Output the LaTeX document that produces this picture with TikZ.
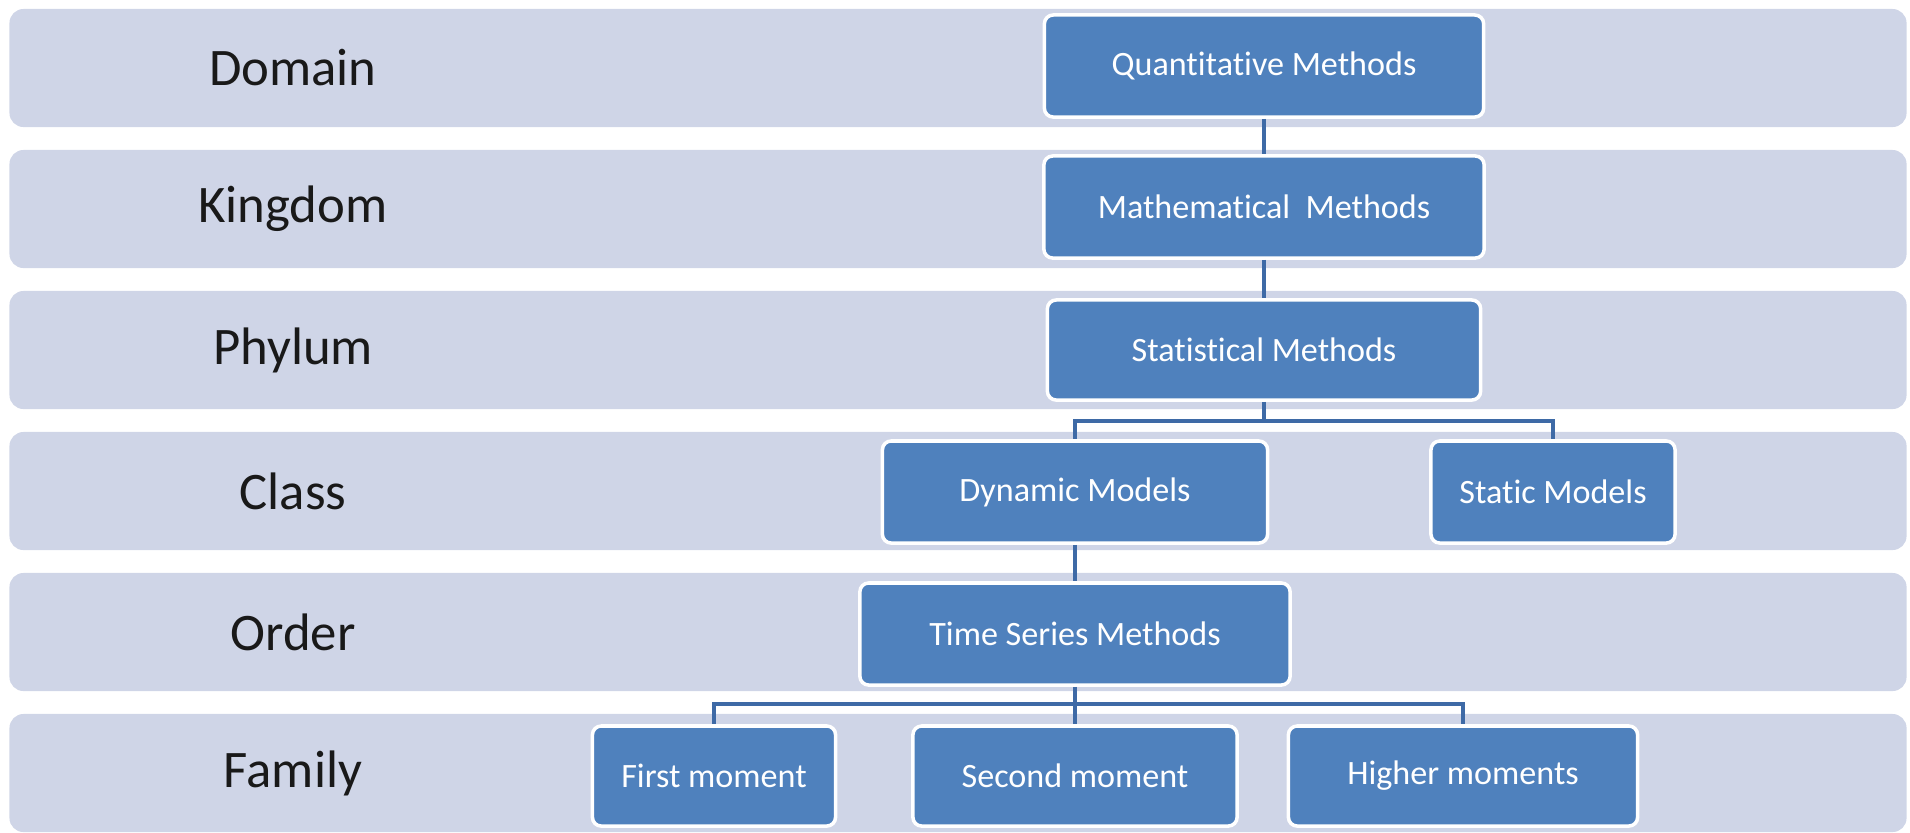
\documentclass[tikz,border=0pt]{standalone}
\usepackage{fontspec}
\setmainfont[Ligatures=NoCommon]{Carlito}
\definecolor{bandgrey}{RGB}{207,213,231}
\definecolor{boxblue}{RGB}{79,129,189}
\definecolor{linkblue}{RGB}{62,106,166}

\begin{document}
\begin{tikzpicture}[x=0.01cm,y=-0.01cm]
      \tikzset{band/.style = {shape=rectangle,rounded corners=4pt,fill=bandgrey,minimum width=18.96cm,minimum height=1.18cm,inner sep=0pt}}
      \tikzset{rank/.style = {font=\fontsize{15pt}{18pt}\selectfont,text=black!90}}
      \tikzset{method/.style = {shape=rectangle,rounded corners=2.5pt,fill=boxblue,draw=white,line width=1pt,text=white,minimum height=1.02cm,inner sep=0pt,font=\fontsize{9.7pt}{12pt}\selectfont}}
      \tikzset{link/.style = {draw=linkblue,line width=1.25pt}}
      \useasboundingbox (0,0) rectangle (1910,832);

      \node[band] (b1) at (958,68) {};
      \node[band] (b2) at (958,209) {};
      \node[band] (b3) at (958,350) {};
      \node[band] (b4) at (958,491) {};
      \node[band] (b5) at (958,632) {};
      \node[band] (b6) at (958,773) {};

      \node[rank] (domain) at (293,68) {Domain};
      \node[rank] (kingdom) at (293,209) {Kingdom};
      \node[rank] (phylum) at (293,350) {Phylum};
      \node[rank] (class) at (293,491) {Class};
      \node[rank] (order) at (293,632) {Order};
      \node[rank] (family) at (293,773) {Family};

      \node[method,minimum width=4.39cm] (quant) at (1264,66) {Quantitative Methods};
      \node[method,minimum width=4.40cm] (math) at (1264,207) {Mathematical\ \ Methods};
      \node[method,minimum width=4.33cm,minimum height=1.00cm] (stat) at (1264,350) {Statistical Methods};

      \node[method,minimum width=3.85cm] (dyn) at (1075,492) {Dynamic Models};
      \node[method,minimum width=2.44cm] (static) at (1553,492) {Static Models};

      \node[method,minimum width=4.30cm] (tsm) at (1075,634) {Time Series Methods};

      \node[method,minimum width=2.43cm,minimum height=1.00cm] (first) at (714,776) {First moment};
      \node[method,minimum width=3.24cm,minimum height=1.00cm] (second) at (1075,776) {Second moment};
      \node[method,minimum width=3.49cm,minimum height=1.00cm] (higher) at (1463,776) {Higher moments};

      \coordinate (split1) at (1264,421);
      \coordinate (split2) at (1075,704);

      \draw[link] (quant) to (math);
      \draw[link] (math) to (stat);
      \draw[link] (stat) to (split1);
      \draw[link] (split1) -| (dyn);
      \draw[link] (split1) -| (static);
      \draw[link] (dyn) to (tsm);
      \draw[link] (tsm) to (split2);
      \draw[link] (split2) -| (first);
      \draw[link] (split2) to (second);
      \draw[link] (split2) -| (higher);
    \end{tikzpicture}
\end{document}
